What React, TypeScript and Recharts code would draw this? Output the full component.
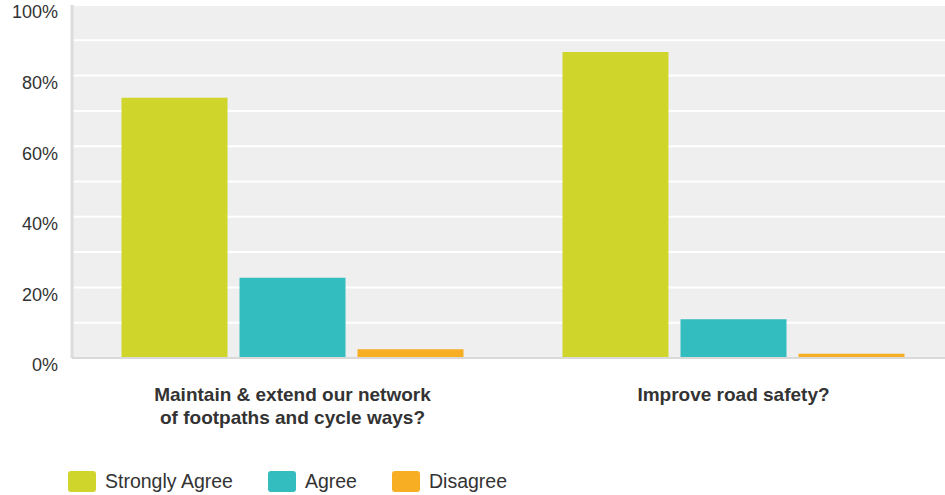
import React from "react";
import { BarChart, Bar, XAxis, YAxis, CartesianGrid } from "recharts";

const categories = [
  "Maintain & extend our network of footpaths and cycle ways?",
  "Improve road safety?",
];
const categoryLines = [
  ["Maintain & extend our network", "of footpaths and cycle ways?"],
  ["Improve road safety?"],
];
const stronglyAgree = [73.7, 86.7];
const agree = [22.7, 11.0];
const disagree = [2.5, 1.2];
const yTicks = [0, 10, 20, 30, 40, 50, 60, 70, 80, 90, 100];

const series = [
  { key: "stronglyAgree", name: "Strongly Agree", color: "#CFD52A" },
  { key: "agree", name: "Agree", color: "#33BDBF" },
  { key: "disagree", name: "Disagree", color: "#F7AE22" },
];

const data = categories.map((c, i) => ({
  category: c,
  stronglyAgree: stronglyAgree[i],
  agree: agree[i],
  disagree: disagree[i],
}));

const FONT = "'Liberation Sans', Arial, sans-serif";

function YTick(props: any) {
  const { x, y, payload } = props;
  if (payload.value % 20 !== 0) return null;
  return (
    <text x={x - 6} y={y + 7} dy="0.35em" textAnchor="end" fontSize={18} fill="#333" fontFamily={FONT}>
      {payload.value}%
    </text>
  );
}

function XTick(props: any) {
  const { x, y, index } = props;
  const lines = categoryLines[index] || [];
  return (
    <text textAnchor="middle" fontSize={19} fontWeight="bold" fill="#333" fontFamily={FONT}>
      {lines.map((l, i) => (
        <tspan key={i} x={x} y={y + 35 + i * 23}>
          {l}
        </tspan>
      ))}
    </text>
  );
}

export default function App() {
  return (
    <div style={{ position: "absolute", left: 0, top: 0, width: 945, height: 495, background: "#fff", fontFamily: FONT, overflow: "hidden" }}>
      <BarChart
        width={954}
        height={495}
        data={data}
        margin={{ top: 5, right: 0, left: 0, bottom: 60 }}
        barCategoryGap={49.5}
        barGap={12}
      >
        <CartesianGrid vertical={false} fill="#EFEFEF" stroke="#FFFFFF" strokeWidth={2} />
        <XAxis
          dataKey="category"
          height={77}
          tickLine={false}
          axisLine={{ stroke: "#D9D9D9", strokeWidth: 2 }}
          tick={<XTick />}
          interval={0}
        />
        <YAxis
          width={72}
          domain={[0, 100]}
          ticks={yTicks}
          tickLine={false}
          axisLine={{ stroke: "#DCDCDC", strokeWidth: 3 }}
          tick={<YTick />}
          interval={0}
        />
        {series.map((s) => (
          <Bar key={s.key} dataKey={s.key} name={s.name} fill={s.color} isAnimationActive={false} />
        ))}
      </BarChart>
      <div style={{ position: "absolute", left: 68, top: 470, display: "flex", alignItems: "center" }}>
        {series.map((s) => (
          <div key={s.key} style={{ display: "flex", alignItems: "center", marginRight: 35 }}>
            <div style={{ width: 28, height: 21, borderRadius: 3, background: s.color, marginRight: 9 }} />
            <span style={{ fontSize: 19.5, color: "#333" }}>{s.name}</span>
          </div>
        ))}
      </div>
    </div>
  );
}
